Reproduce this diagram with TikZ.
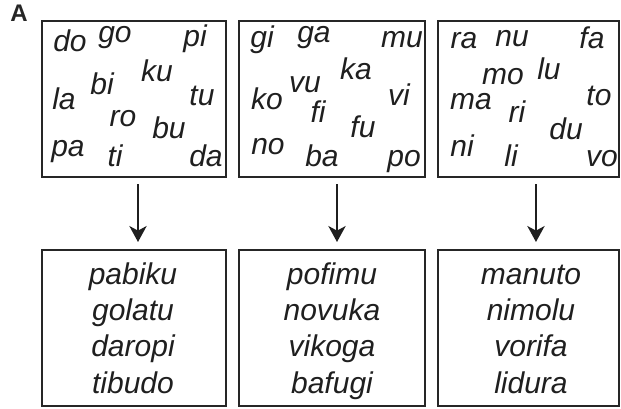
\documentclass[tikz,border=0pt]{standalone}
\usepackage{fontspec}
\setmainfont{Liberation Sans}
\usetikzlibrary{arrows.meta}
\tikzset{
  frame/.style={draw=black!85, line width=2pt, minimum height=117pt, inner sep=0pt},
  syl/.style={anchor=base, inner sep=0pt, font=\fontsize{22.5}{27}\selectfont\itshape, text=black!88},
  word/.style={anchor=base, inner sep=0pt, font=\fontsize{22.5}{27}\selectfont\itshape, text=black!88},
  flow/.style={draw=black!88, line width=1.5pt, -{Stealth[length=12pt, width=13pt, inset=3.5pt]}},
  panel/.style={font=\fontsize{18}{20}\selectfont\bfseries, text=black!85, inner sep=0pt, anchor=base}
}
\begin{document}
\begin{tikzpicture}[x=0.75pt, y=-0.75pt]
\useasboundingbox (0,0) rectangle (621,409);

\node[panel] (lab) at (19,22) {A};

% syllable inventories
\node[frame, minimum width=138pt] (t1) at (134,99) {};
\node[frame, minimum width=139.5pt] (t2) at (332,99) {};
\node[frame, minimum width=135.75pt] (t3) at (528.5,99) {};

% trained words
\node[frame, minimum width=138pt] (b1) at (134,328) {};
\node[frame, minimum width=139.5pt] (b2) at (332,328) {};
\node[frame, minimum width=135.75pt] (b3) at (528.5,328) {};

% first set of syllables
\node[syl] (s1a) at (70,52) {do};
\node[syl] (s1b) at (115,43) {go};
\node[syl] (s1c) at (195,47) {pi};
\node[syl] (s1d) at (157,82) {ku};
\node[syl] (s1e) at (102,95) {bi};
\node[syl] (s1f) at (202,106) {tu};
\node[syl] (s1g) at (64,110) {la};
\node[syl] (s1h) at (123,127) {ro};
\node[syl] (s1i) at (169,139) {bu};
\node[syl] (s1j) at (68,157) {pa};
\node[syl] (s1k) at (115,167) {ti};
\node[syl] (s1l) at (206,167) {da};

% second set of syllables
\node[syl] (s2a) at (262,48) {gi};
\node[syl] (s2b) at (314,43) {ga};
\node[syl] (s2c) at (402,48) {mu};
\node[syl] (s2d) at (356,80) {ka};
\node[syl] (s2e) at (305,93) {vu};
\node[syl] (s2f) at (267,110) {ko};
\node[syl] (s2g) at (399,106) {vi};
\node[syl] (s2h) at (318,123) {fi};
\node[syl] (s2i) at (363,138) {fu};
\node[syl] (s2j) at (268,155) {no};
\node[syl] (s2k) at (322,167) {ba};
\node[syl] (s2l) at (404,167) {po};

% third set of syllables
\node[syl] (s3a) at (464,49) {ra};
\node[syl] (s3b) at (512,47) {nu};
\node[syl] (s3c) at (592,49) {fa};
\node[syl] (s3d) at (549,80) {lu};
\node[syl] (s3e) at (503,85) {mo};
\node[syl] (s3f) at (471,110) {ma};
\node[syl] (s3g) at (599,106) {to};
\node[syl] (s3h) at (517,123) {ri};
\node[syl] (s3i) at (566,140) {du};
\node[syl] (s3j) at (462,157) {ni};
\node[syl] (s3k) at (511,167) {li};
\node[syl] (s3l) at (602,167) {vo};

% words built from each set
\node[word] (w1a) at (133,285) {pabiku};
\node[word] (w1b) at (133,321) {golatu};
\node[word] (w1c) at (133,357) {daropi};
\node[word] (w1d) at (133,393) {tibudo};

\node[word] (w2a) at (332,285) {pofimu};
\node[word] (w2b) at (332,321) {novuka};
\node[word] (w2c) at (332,357) {vikoga};
\node[word] (w2d) at (332,393) {bafugi};

\node[word] (w3a) at (531,285) {manuto};
\node[word] (w3b) at (531,321) {nimolu};
\node[word] (w3c) at (531,357) {vorifa};
\node[word] (w3d) at (531,393) {lidura};

% arrows from inventories to words
\draw[flow] ([xshift=3pt, yshift=-4.5pt]t1.south) -- ([xshift=3pt, yshift=5pt]b1.north);
\draw[flow] ([xshift=3.75pt, yshift=-4.5pt]t2.south) -- ([xshift=3.75pt, yshift=5pt]b2.north);
\draw[flow] ([xshift=5.6pt, yshift=-4.5pt]t3.south) -- ([xshift=5.6pt, yshift=5pt]b3.north);
\end{tikzpicture}
\end{document}
